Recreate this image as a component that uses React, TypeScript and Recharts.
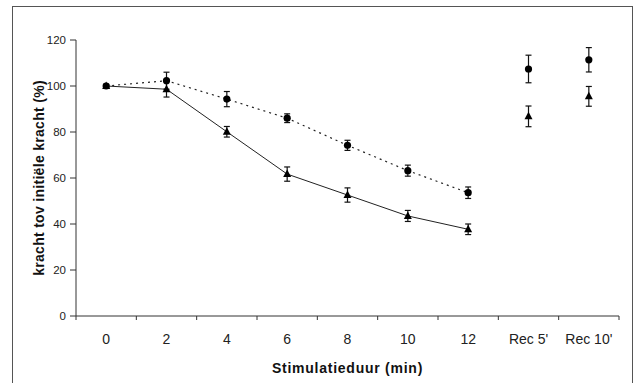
import React from "react";
import { ComposedChart, Line, XAxis, YAxis, ErrorBar } from "recharts";

const categories = ["0", "2", "4", "6", "8", "10", "12", "Rec 5'", "Rec 10'"];
const circleValues = [100, 102.3, 94.3, 86, 74.2, 63.2, 53.6, 107.4, 111.4];
const circleErrors = [0.8, 3.7, 3.3, 1.9, 2.2, 2.4, 2.5, 6, 5.3];
const triangleValues = [100, 98.6, 80.1, 61.7, 52.6, 43.5, 37.7, 86.8, 95.5];
const triangleErrors = [0.3, 3.4, 2.3, 3.1, 3.1, 2.4, 2.3, 4.5, 4.3];
const recoveryCount = 2;
const yTicks = [0, 20, 40, 60, 80, 100, 120];

const W = 636;
const H = 383;
const margin = { top: 40, right: 17, left: 0, bottom: 7 };
const yAxisWidth = 76;
const plotWidth = W - yAxisWidth - margin.right;
const band = plotWidth / categories.length;
const FONT = "'Liberation Sans', Arial, sans-serif";

const lastConnected = categories.length - recoveryCount - 1;
const data = categories.map((t, i) => ({
  t,
  circle: circleValues[i],
  circleErr: circleErrors[i],
  circleLine: i <= lastConnected ? circleValues[i] : null,
  triangle: triangleValues[i],
  triangleErr: triangleErrors[i],
  triangleLine: i <= lastConnected ? triangleValues[i] : null,
}));

const CircleDot = (props: any) => {
  const { cx, cy } = props;
  if (cx == null || cy == null) return null;
  return <circle cx={cx} cy={cy} r={3.6} fill="#000" />;
};

const TriangleDot = (props: any) => {
  const { cx, cy } = props;
  if (cx == null || cy == null) return null;
  return (
    <polygon
      points={`${cx},${cy - 4.5} ${cx - 4},${cy + 3} ${cx + 4},${cy + 3}`}
      fill="#000"
    />
  );
};

// category labels sit between tick marks, as in Excel
const XTick = (props: any) => {
  const { x, y, payload, index } = props;
  const half = band / 2;
  return (
    <g>
      {index === 0 && (
        <line x1={x - half} y1={y} x2={x - half} y2={y + 4} stroke="#333" />
      )}
      <line x1={x + half} y1={y} x2={x + half} y2={y + 4} stroke="#333" />
      <text
        x={x}
        y={y + 28}
        textAnchor="middle"
        fontSize={14}
        fontFamily={FONT}
        fill="#222"
      >
        {payload.value}
      </text>
    </g>
  );
};

export default function App() {
  return (
    <div
      style={{
        position: "absolute",
        left: 0,
        top: 0,
        width: W,
        height: H,
        overflow: "hidden",
        background: "#fff",
      }}
    >
      <div
        style={{
          position: "absolute",
          left: 12,
          top: 6,
          width: 619,
          height: 380,
          borderTop: "1px solid #555",
          borderLeft: "1px solid #555",
          borderRight: "1px solid #555",
        }}
      />
      <div style={{ position: "absolute", left: 0, top: 0 }}>
        <ComposedChart width={W} height={H} data={data} margin={margin}>
          <XAxis
            dataKey="t"
            type="category"
            scale="band"
            stroke="#333"
            tickLine={false}
            tickSize={0}
            tickMargin={0}
            tick={<XTick />}
            interval={0}
            height={60}
            label={{
              value: "Stimulatieduur (min)",
              position: "insideBottom",
              offset: 3,
              style: {
                fontFamily: FONT,
                fontWeight: "bold",
                fontSize: 14,
                letterSpacing: 0.75,
                fill: "#111",
              },
            }}
          />
          <YAxis
            domain={[0, 120]}
            ticks={yTicks}
            width={yAxisWidth}
            stroke="#333"
            tickSize={6}
            tickMargin={4}
            tick={{ fontSize: 11.5, fontFamily: FONT, fill: "#222" }}
            label={{
              value: "kracht tov initiële kracht (%)",
              angle: -90,
              position: "insideLeft",
              offset: 39,
              style: {
                textAnchor: "middle",
                fontFamily: FONT,
                fontWeight: "bold",
                fontSize: 14,
                letterSpacing: 0.3,
                fill: "#111",
              },
            }}
          />
          <Line
            dataKey="circleLine"
            stroke="#222"
            strokeWidth={1.2}
            strokeDasharray="2 4"
            dot={false}
            activeDot={false}
            isAnimationActive={false}
          />
          <Line
            dataKey="triangleLine"
            stroke="#222"
            strokeWidth={1}
            dot={false}
            activeDot={false}
            isAnimationActive={false}
          />
          <Line
            dataKey="circle"
            stroke="none"
            dot={<CircleDot />}
            activeDot={false}
            isAnimationActive={false}
          >
            <ErrorBar
              dataKey="circleErr"
              width={3}
              stroke="#111"
              strokeWidth={1.2}
              direction="y"
              isAnimationActive={false}
            />
          </Line>
          <Line
            dataKey="triangle"
            stroke="none"
            dot={<TriangleDot />}
            activeDot={false}
            isAnimationActive={false}
          >
            <ErrorBar
              dataKey="triangleErr"
              width={3}
              stroke="#111"
              strokeWidth={1.2}
              direction="y"
              isAnimationActive={false}
            />
          </Line>
        </ComposedChart>
      </div>
    </div>
  );
}
